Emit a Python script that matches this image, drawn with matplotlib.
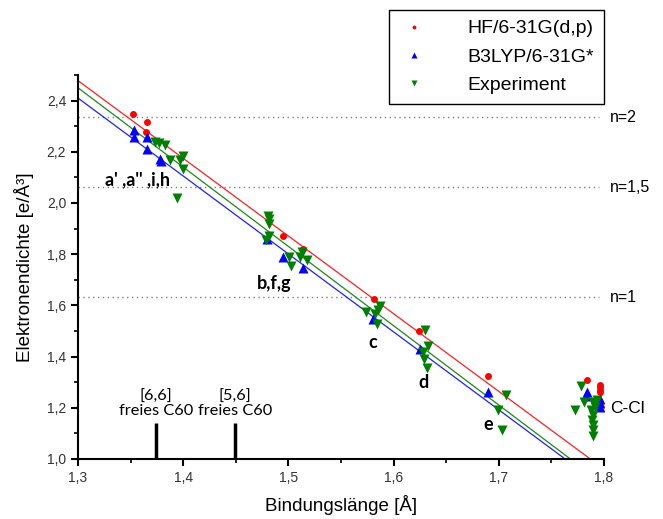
import matplotlib
matplotlib.use("Agg")
import matplotlib.pyplot as plt
import numpy as np
from matplotlib.ticker import MultipleLocator, FuncFormatter

# ---------------------------------------------------------------------------
# Data
# ---------------------------------------------------------------------------

hf_x = [1.352, 1.366, 1.365, 1.495, 1.514, 1.581, 1.624, 1.690,
        1.784, 1.796, 1.796, 1.796, 1.796]
hf_y = [2.349, 2.318, 2.276, 1.873, 1.821, 1.624, 1.500, 1.324,
        1.308, 1.290, 1.280, 1.270, 1.260]

b3_x = [1.353, 1.353, 1.366, 1.366, 1.378, 1.379, 1.480, 1.495, 1.514,
        1.580, 1.625, 1.690, 1.784, 1.783, 1.796, 1.796, 1.796]
b3_y = [2.285, 2.257, 2.259, 2.211, 2.172, 2.165, 1.860, 1.789, 1.747,
        1.548, 1.430, 1.262, 1.260, 1.245, 1.235, 1.220, 1.205]

exp_x = [1.373, 1.377, 1.383, 1.387, 1.400, 1.397, 1.400, 1.394,
         1.481, 1.482, 1.482, 1.482, 1.479, 1.501, 1.502, 1.511, 1.518, 1.513,
         1.587, 1.585, 1.574, 1.582, 1.584,
         1.630, 1.633, 1.628, 1.629, 1.632,
         1.707, 1.699, 1.703,
         1.778, 1.772, 1.781, 1.790, 1.788, 1.790, 1.789, 1.790, 1.790,
         1.790, 1.793, 1.791]
exp_y = [2.240, 2.235, 2.227, 2.168, 2.185, 2.168, 2.133, 2.020,
         1.951, 1.938, 1.919, 1.873, 1.857, 1.791, 1.752, 1.789, 1.776, 1.808,
         1.597, 1.581, 1.574, 1.565, 1.526,
         1.503, 1.441, 1.418, 1.389, 1.354,
         1.249, 1.191, 1.113,
         1.285, 1.191, 1.223, 1.223, 1.191, 1.172, 1.152, 1.133, 1.113,
         1.090, 1.230, 1.204]

# linear fits: value at x=1.3 and slope
fit_start = {"hf": 2.478, "b3": 2.410, "exp": 2.450}
fit_slope = {"hf": -3.035, "b3": -3.045, "exp": -3.098}

# n-levels (dotted guide lines)
n_levels = [2.334, 2.061, 1.632]
n_labels = ["n=2", "n=1,5", "n=1"]

# free C60 bond lengths
c60_x = [1.374, 1.449]
c60_labels = ["[6,6]\nfreies C60", "[5,6]\nfreies C60"]

# group labels
group_text = ["a' ,a'' ,i,h", "b,f,g", "c", "d", "e"]
group_x = [1.357, 1.486, 1.580, 1.628, 1.690]
group_y = [2.092, 1.686, 1.456, 1.300, 1.133]

# ---------------------------------------------------------------------------
# Plot
# ---------------------------------------------------------------------------

plt.rcParams["font.family"] = ["Liberation Sans", "DejaVu Sans"]

fig = plt.figure(figsize=(6.63, 5.19), dpi=100)
ax = fig.add_axes([78 / 663, 1 - 459 / 519, 526 / 663, 384 / 519])

ax.set_xlim(1.3, 1.8)
ax.set_ylim(1.0, 2.5)

# dotted n-lines
for lvl, lab in zip(n_levels, n_labels):
    ax.hlines(lvl, 1.3, 1.795, colors="#808080", linestyles=(0, (1, 2.5)), linewidth=1)
    ax.text(1.806, lvl, lab, fontsize=11.5, va="center", ha="left", clip_on=False)

# fit lines
xx = np.array([1.3, 1.8])
ax.plot(xx, fit_start["hf"] + fit_slope["hf"] * (xx - 1.3), color="#ff2020", lw=0.9)
ax.plot(xx, fit_start["exp"] + fit_slope["exp"] * (xx - 1.3), color="#1a8a1a", lw=0.9)
ax.plot(xx, fit_start["b3"] + fit_slope["b3"] * (xx - 1.3), color="#2020ff", lw=0.9)

# points
ax.plot(hf_x, hf_y, "o", color="red", ms=5, mec="none", label="HF/6-31G(d,p)")
ax.plot(b3_x, b3_y, "^", color="blue", ms=7, mec="none", label="B3LYP/6-31G*")
ax.plot(exp_x, exp_y, "v", color="green", ms=7, mec="none", label="Experiment")

# C60 markers
ax.vlines(c60_x, 1.0, 1.14, colors="black", linewidth=2.5)
for cx, lab in zip(c60_x, c60_labels):
    ax.text(cx, 1.16, lab, ha="center", va="bottom", fontsize=11.8,
            family=["Lato", "DejaVu Sans"], linespacing=1.0)

# group labels
for t, gx, gy in zip(group_text, group_x, group_y):
    ax.text(gx, gy, t, ha="center", va="center", fontsize=13, fontweight="bold",
            family=["Lato", "DejaVu Sans"])
ax.text(1.806, 1.199, "C-Cl", fontsize=12.5, va="center", ha="left", clip_on=False)

# axes styling
for s in ["top", "right"]:
    ax.spines[s].set_visible(False)
for s in ["left", "bottom"]:
    ax.spines[s].set_linewidth(1.5)

ax.xaxis.set_major_locator(MultipleLocator(0.1))
ax.xaxis.set_minor_locator(MultipleLocator(0.05))
ax.yaxis.set_major_locator(MultipleLocator(0.2))
ax.yaxis.set_minor_locator(MultipleLocator(0.1))
ax.xaxis.set_major_formatter(FuncFormatter(lambda v, p: f"{v:.1f}".replace(".", ",")))
ax.yaxis.set_major_formatter(FuncFormatter(lambda v, p: f"{v:.1f}".replace(".", ",")))
ax.tick_params(which="major", direction="out", length=5, width=1.5,
               labelsize=10, labelcolor="#333333")
ax.tick_params(which="minor", direction="out", length=3, width=1.2)

ax.set_xlabel("Bindungslänge [Å]", fontsize=13.5, labelpad=7)
ax.set_ylabel("Elektronendichte [e/Å³]", fontsize=13.5, labelpad=9)

leg = ax.legend(loc="upper right", bbox_to_anchor=(1.0, 1.169), fontsize=14,
                markerscale=0.55, fancybox=False, edgecolor="black",
                framealpha=1, labelspacing=0.55, borderpad=0.5,
                handletextpad=1.95, handlelength=1.6, borderaxespad=0)
leg.get_frame().set_linewidth(1.0)

fig.savefig("out.png", dpi=100)
